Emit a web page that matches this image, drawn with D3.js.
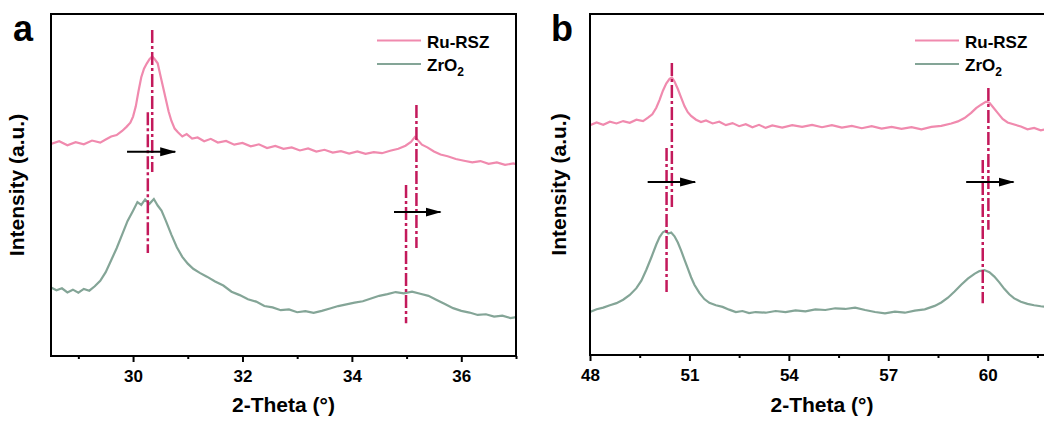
<!DOCTYPE html>
<html><head><meta charset="utf-8">
<script src="https://cdn.jsdelivr.net/npm/d3@7"></script>
<style>
html,body{margin:0;padding:0;background:#fff;}
svg{display:block;font-family:"Liberation Sans",Arial,sans-serif;}
</style></head>
<body>
<svg id="chart" width="1044" height="425"></svg>
<script>
// ---- Data (2θ in degrees, intensity in arbitrary units 0-100) ----
const seriesNames = ["Ru-RSZ", "ZrO2"];

const ruA = [[28.50,62.0],[28.65,62.8],[28.80,61.6],[28.95,62.5],[29.10,61.9],[29.25,63.0],[29.40,62.4],[29.50,63.3],[29.60,64.2],[29.70,64.6],[29.80,65.8],[29.88,67.0],[29.95,68.2],[30.00,70.0],[30.05,73.0],[30.10,77.5],[30.15,81.5],[30.20,84.0],[30.25,85.5],[30.30,86.8],[30.35,87.6],[30.40,86.7],[30.45,85.6],[30.50,82.0],[30.55,78.5],[30.60,75.0],[30.65,71.5],[30.70,68.8],[30.76,66.5],[30.82,65.4],[30.90,64.2],[30.98,64.9],[31.08,63.6],[31.18,63.9],[31.30,62.8],[31.42,63.5],[31.55,62.4],[31.70,62.9],[31.85,61.8],[32.00,62.3],[32.15,61.3],[32.30,61.9],[32.45,60.8],[32.60,61.4],[32.75,60.6],[32.90,61.0],[33.05,60.1],[33.20,60.7],[33.35,59.8],[33.50,60.3],[33.65,59.5],[33.80,59.9],[33.95,59.2],[34.10,59.8],[34.25,59.1],[34.40,59.6],[34.55,59.3],[34.70,60.0],[34.85,60.6],[34.98,61.5],[35.08,62.6],[35.15,64.0],[35.20,63.2],[35.28,61.8],[35.38,61.0],[35.50,59.8],[35.62,58.9],[35.75,58.4],[35.90,57.6],[36.05,57.1],[36.20,56.6],[36.35,57.0],[36.50,56.2],[36.65,56.6],[36.80,55.9],[36.95,56.3],[37.00,56.1]];

const zrA = [[28.50,20.0],[28.60,19.2],[28.70,19.8],[28.80,18.6],[28.90,19.4],[29.00,18.5],[29.10,19.6],[29.20,19.1],[29.30,20.4],[29.40,22.0],[29.50,24.5],[29.60,28.0],[29.70,31.5],[29.80,35.5],[29.90,39.5],[30.00,42.5],[30.08,45.0],[30.15,44.2],[30.22,45.8],[30.30,44.5],[30.38,45.9],[30.45,44.0],[30.52,42.5],[30.60,39.5],[30.70,35.5],[30.80,31.8],[30.90,29.0],[31.00,27.0],[31.10,25.5],[31.22,24.3],[31.35,23.2],[31.50,21.8],[31.65,20.6],[31.80,18.8],[31.95,17.8],[32.10,16.6],[32.25,15.9],[32.40,14.6],[32.55,14.2],[32.70,13.4],[32.85,13.6],[33.00,12.8],[33.15,13.1],[33.30,12.6],[33.45,13.2],[33.60,13.9],[33.75,14.6],[33.90,15.1],[34.05,15.6],[34.20,16.0],[34.35,16.8],[34.50,17.6],[34.65,18.1],[34.80,18.7],[34.95,18.3],[35.10,18.8],[35.25,18.2],[35.40,17.6],[35.55,16.4],[35.70,15.2],[35.85,14.0],[36.00,13.2],[36.15,12.7],[36.30,12.0],[36.45,12.2],[36.60,11.5],[36.75,11.8],[36.90,11.1],[37.00,11.4]];

const ruB = [[48.00,67.4],[48.20,68.2],[48.40,67.5],[48.60,68.4],[48.80,67.9],[49.00,68.6],[49.20,68.1],[49.40,69.0],[49.60,68.6],[49.75,69.6],[49.88,70.6],[50.00,72.5],[50.10,74.8],[50.20,77.5],[50.30,79.6],[50.40,81.0],[50.47,81.4],[50.55,80.2],[50.65,78.0],[50.75,75.5],[50.85,73.0],[50.95,71.2],[51.05,70.1],[51.20,69.0],[51.35,68.3],[51.50,68.8],[51.70,67.9],[51.90,68.4],[52.10,67.4],[52.30,68.0],[52.50,67.1],[52.70,67.7],[52.90,66.8],[53.10,67.5],[53.30,66.6],[53.50,67.3],[53.80,66.7],[54.10,67.4],[54.40,66.9],[54.70,67.5],[55.00,66.8],[55.30,67.4],[55.60,66.7],[55.90,67.2],[56.20,66.5],[56.50,67.1],[56.80,66.4],[57.10,66.9],[57.40,66.3],[57.70,66.8],[58.00,66.2],[58.30,66.9],[58.60,67.2],[58.90,67.9],[59.10,68.5],[59.30,69.5],[59.50,71.0],[59.65,72.4],[59.80,73.4],[59.95,74.3],[60.05,74.0],[60.15,72.8],[60.30,71.0],[60.45,69.2],[60.60,68.2],[60.80,67.6],[61.00,67.0],[61.20,66.2],[61.40,66.6],[61.60,65.9],[61.80,66.3],[62.00,66.0]];

const zrB = [[48.00,12.6],[48.20,13.4],[48.40,13.9],[48.60,14.6],[48.80,15.2],[49.00,16.2],[49.20,17.6],[49.40,19.6],[49.55,21.8],[49.70,25.0],[49.85,28.6],[50.00,32.4],[50.10,34.6],[50.20,36.0],[50.28,36.4],[50.36,35.6],[50.45,35.9],[50.55,34.8],[50.65,33.0],[50.75,30.6],[50.85,28.0],[50.95,25.4],[51.05,22.8],[51.15,20.6],[51.30,18.2],[51.45,16.4],[51.60,15.3],[51.80,14.6],[52.00,14.1],[52.20,13.3],[52.40,12.6],[52.60,12.9],[52.80,12.3],[53.00,12.6],[53.30,12.4],[53.60,12.9],[53.90,12.6],[54.20,13.1],[54.50,12.8],[54.80,13.4],[55.10,13.2],[55.40,13.7],[55.70,13.5],[56.00,13.9],[56.30,13.2],[56.60,12.6],[56.90,12.2],[57.20,12.7],[57.50,12.4],[57.80,13.0],[58.10,13.4],[58.40,14.4],[58.60,15.4],[58.80,16.8],[59.00,18.6],[59.20,20.6],[59.40,22.4],[59.60,23.8],[59.75,24.6],[59.90,24.9],[60.05,24.3],[60.20,23.0],[60.35,21.3],[60.50,19.4],[60.65,17.8],[60.80,16.6],[61.00,15.6],[61.20,15.0],[61.40,14.6],[61.60,14.3],[61.80,14.1],[62.00,14.3]];

// reference peak positions: [x, yFrom, yTo]
const refLinesA = [[30.35,95.3,53.8],[30.27,71.3,30.1],[35.18,73.4,31.6],[34.99,50.0,9.6]];
const refLinesB = [[50.47,85.6,43.4],[50.31,60.7,18.5],[60.02,78.3,36.7],[59.85,57.2,15.2]];
// shift arrows: [xFrom, xTo, y]
const arrowsA = [[29.89,30.77,59.7],[34.77,35.62,42.1]];
const arrowsB = [[49.74,51.17,50.7],[59.35,60.78,50.7]];

const ticksA = [30,32,34,36];
const minorA = [29,31,33,35,37];
const ticksB = [48,51,54,57,60];
const minorB = [49.5,52.5,55.5,58.5,61.5];

// ---- Styles ----
const pink = "#F08AAE", green = "#84A597", crimson = "#C3195B";

const svg = d3.select("#chart");
const defs = svg.append("defs");
defs.append("marker").attr("id","ah").attr("viewBox","0 0 16 10")
  .attr("refX",15).attr("refY",5).attr("markerWidth",16).attr("markerHeight",10)
  .attr("markerUnits","userSpaceOnUse").attr("orient","auto")
  .append("path").attr("d","M0,0.5L16,5L0,9.5Z").attr("fill","#000");

function panel(o){
  const x = d3.scaleLinear().domain(o.xDomain).range([o.left, o.right]);
  const y = d3.scaleLinear().domain([0,100]).range([o.bottom, o.top]);
  const g = svg.append("g");
  const cid = "clip"+o.letter;
  defs.append("clipPath").attr("id",cid).append("rect")
    .attr("x",o.left).attr("y",o.top).attr("width",o.right-o.left).attr("height",o.bottom-o.top);
  const line = d3.line().x(d=>x(d[0])).y(d=>y(d[1]));
  const plot = g.append("g").attr("clip-path",`url(#${cid})`);
  plot.append("path").datum(o.ru).attr("d",line).attr("fill","none").attr("stroke",pink).attr("stroke-width",2.2);
  plot.append("path").datum(o.zr).attr("d",line).attr("fill","none").attr("stroke",green).attr("stroke-width",2.2);
  plot.selectAll(".ref").data(o.refs).enter().append("line")
    .attr("x1",d=>x(d[0])).attr("x2",d=>x(d[0])).attr("y1",d=>y(d[1])).attr("y2",d=>y(d[2]))
    .attr("stroke",crimson).attr("stroke-width",2.5).attr("stroke-dasharray","13,3,3,3");
  plot.selectAll(".arr").data(o.arrows).enter().append("line")
    .attr("x1",d=>x(d[0])).attr("x2",d=>x(d[1])).attr("y1",d=>y(d[2])).attr("y2",d=>y(d[2]))
    .attr("stroke","#000").attr("stroke-width",2).attr("marker-end","url(#ah)");

  // axes
  const ax = g.append("g").attr("transform",`translate(0,${o.bottom})`)
    .call(d3.axisBottom(x).tickValues(o.ticks).tickSize(6).tickSizeOuter(0).tickPadding(8).tickFormat(d3.format("d")));
  ax.select(".domain").remove();
  ax.selectAll(".tick line").attr("stroke","#000").attr("stroke-width",2);
  ax.selectAll(".tick text").attr("font-size",17).attr("font-weight","bold").attr("fill","#000")
    .attr("font-family","'Liberation Sans',Arial,sans-serif");
  const axm = g.append("g").attr("transform",`translate(0,${o.bottom})`)
    .call(d3.axisBottom(x).tickValues(o.minor).tickSize(3).tickSizeOuter(0).tickFormat(""));
  axm.select(".domain").remove();
  axm.selectAll(".tick line").attr("stroke","#000").attr("stroke-width",2);

  g.append("rect").attr("x",o.left).attr("y",o.top).attr("width",o.right-o.left).attr("height",o.bottom-o.top)
    .attr("fill","none").attr("stroke","#000").attr("stroke-width",2);

  g.append("text").attr("x",(o.left+o.right)/2).attr("y",412).attr("text-anchor","middle")
    .attr("font-size",21).attr("font-weight","bold").text("2-Theta (°)");
  g.append("text").attr("transform",`translate(${o.yLabX},${(o.top+o.bottom)/2}) rotate(-90)`)
    .attr("text-anchor","middle").attr("font-size",21).attr("font-weight","bold").text("Intensity (a.u.)");
  g.append("text").attr("x",o.letterX).attr("y",41).attr("font-size",36).attr("font-weight","bold").text(o.letter);

  // legend
  const lg = g.append("g");
  const cols = [pink, green];
  seriesNames.forEach((n,i)=>{
    const yy = 40.5 + i*23.5;
    lg.append("line").attr("x1",o.legX).attr("x2",o.legX+44).attr("y1",yy).attr("y2",yy)
      .attr("stroke",cols[i]).attr("stroke-width",2);
    const t = lg.append("text").attr("x",o.legX+50).attr("y",yy+7).attr("font-size",17).attr("font-weight","bold");
    if(n==="ZrO2"){ t.append("tspan").text("ZrO"); t.append("tspan").attr("font-size",12).attr("dy",5).text("2"); }
    else t.text(n);
  });
}

panel({letter:"a", xDomain:[28.5,37], left:51, right:516, top:14, bottom:356,
  ru:ruA, zr:zrA, refs:refLinesA, arrows:arrowsA, ticks:ticksA, minor:minorA,
  yLabX:24, letterX:13, legX:377});
panel({letter:"b", xDomain:[48,62], left:590, right:1054, top:14, bottom:355,
  ru:ruB, zr:zrB, refs:refLinesB, arrows:arrowsB, ticks:ticksB, minor:minorB,
  yLabX:566, letterX:551, legX:915});
</script>
</body></html>
